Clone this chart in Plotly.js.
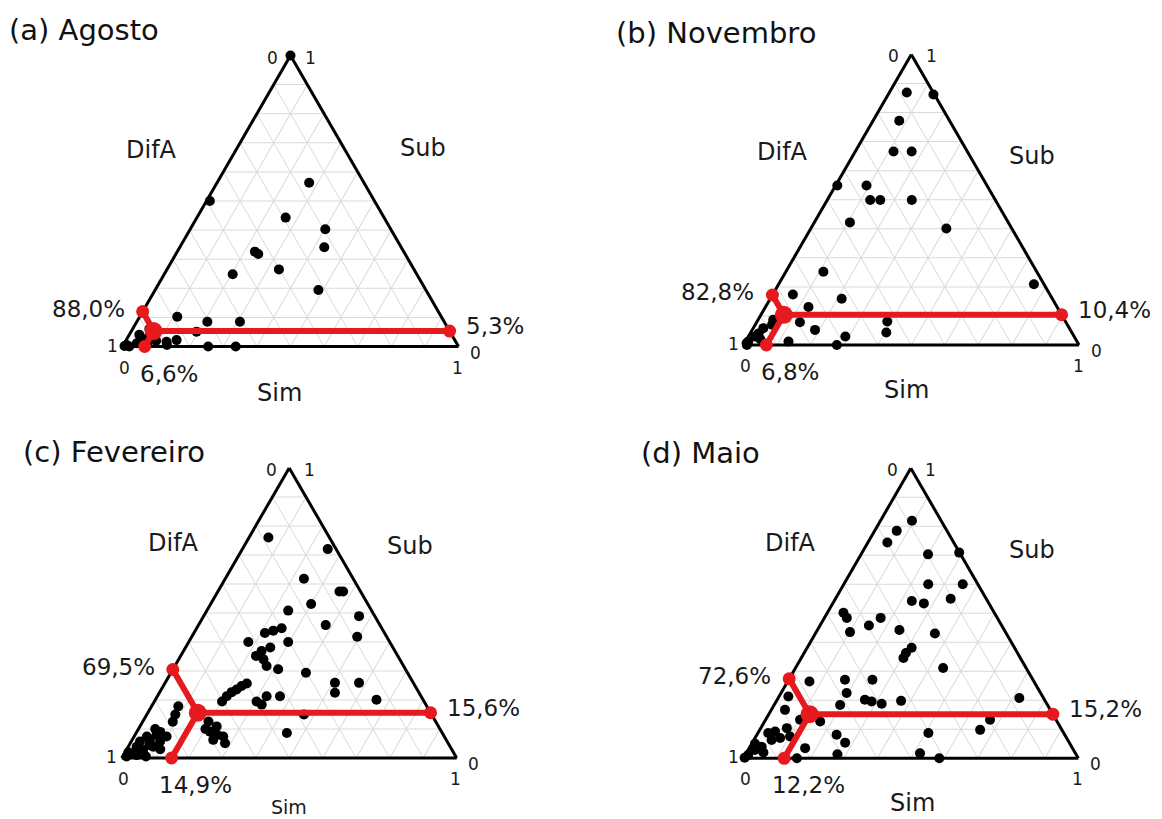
<!DOCTYPE html>
<html><head><meta charset="utf-8">
<script src="https://cdn.plot.ly/plotly-3.0.1.min.js"></script>
<style>html,body{margin:0;padding:0;background:#fff}#chart{width:1162px;height:819px}</style>
</head><body><div id="chart"></div>
<script>
// ---------- DATA ----------
const panelTitles = ['(a) Agosto', '(b) Novembro', '(c) Fevereiro', '(d) Maio'];
const axisNames = ['DifA', 'Sub', 'Sim'];
// corner tick labels: apex (left, right), bottom-left (left, below), bottom-right (right, below)
const cornerLabels = ['0', '1', '1', '0', '0', '1'];

// Sub (apex, a) and Sim (bottom-right, c); DifA = 1 - Sub - Sim
const subA = [1.0,0.563,0.50,0.443,0.403,0.341,0.326,0.318,0.265,0.248,0.194,0.102,0.085,0.085,0.051,0.0,0.0,0.005,0.016,0.022,0.005,0.011,0.016,0.0,0.008,0.03,0.04,0.02,0.06,0.002];
const simA = [0.0,0.274,0.01,0.264,0.402,0.43,0.231,0.245,0.333,0.204,0.486,0.112,0.21,0.307,0.195,0.255,0.337,0.13,0.123,0.15,0.01,0.037,0.054,0.02,0.07,0.06,0.03,0.09,0.05,0.005];

const subB = [0.869,0.862,0.772,0.666,0.666,0.549,0.549,0.499,0.499,0.499,0.422,0.401,0.252,0.209,0.174,0.159,0.131,0.078,0.052,0.081,0.043,0.029,0.0,0.012,0.006,0.029,0.058,0.087,0.012,0.04,0.02,0.0,0.07];
const simB = [0.052,0.135,0.078,0.114,0.168,0.005,0.092,0.128,0.158,0.252,0.106,0.404,0.112,0.761,0.06,0.213,0.128,0.129,0.187,0.388,0.404,0.289,0.278,0.128,0.006,0.02,0.03,0.045,0.008,0.025,0.04,0.01,0.05];

const subC = [0.760,0.720,0.618,0.574,0.574,0.531,0.508,0.489,0.458,0.418,0.431,0.439,0.447,0.40,0.40,0.381,0.369,0.352,0.340,0.317,0.306,0.294,0.259,0.225,0.259,0.201,0.257,0.248,0.236,0.227,0.213,0.195,0.213,0.195,0.184,0.213,0.15,0.086,0.178,0.15,0.125,0.126,0.109,0.091,0.074,0.0625,0.051,0.10,0.08,0.005,0.039,0.074,0.08,0.074,0.028,0.039,0.016,0.057,0.0625,0.057,0.01,0.02,0.045,0.09,0.03,0.005,0.1];
const simC = [0.058,0.255,0.235,0.363,0.374,0.30,0.243,0.464,0.38,0.494,0.212,0.233,0.254,0.178,0.297,0.253,0.233,0.225,0.253,0.274,0.314,0.403,0.507,0.524,0.579,0.66,0.245,0.234,0.225,0.215,0.207,0.202,0.326,0.305,0.326,0.366,0.469,0.45,0.08,0.085,0.09,0.196,0.229,0.218,0.266,0.242,0.283,0.20,0.245,0.012,0.025,0.038,0.064,0.097,0.05,0.075,0.027,0.086,0.053,0.026,0.04,0.01,0.06,0.07,0.1,0.07,0.05];

const subD = [0.819,0.784,0.744,0.703,0.709,0.60,0.60,0.55,0.542,0.534,0.502,0.484,0.435,0.484,0.458,0.442,0.43,0.381,0.363,0.346,0.311,0.265,0.271,0.271,0.225,0.202,0.196,0.188,0.198,0.184,0.208,0.133,0.098,0.087,0.017,0.0,0.014,0.081,0.054,0.213,0.167,0.104,0.075,0.035,0.127,0.133,0.011,0.04,0.087,0.092,0.029,0.063,0.05,0.02,0.07,0.002,0.0];
const simD = [0.094,0.066,0.058,0.20,0.29,0.252,0.355,0.344,0.232,0.272,0.048,0.067,0.101,0.168,0.146,0.245,0.357,0.312,0.304,0.305,0.441,0.065,0.168,0.25,0.196,0.262,0.285,0.319,0.372,0.197,0.72,0.67,0.658,0.509,0.519,0.585,0.274,0.238,0.277,0.028,0.041,0.078,0.102,0.167,0.166,0.103,0.009,0.035,0.031,0.049,0.02,0.053,0.01,0.05,0.075,0.003,0.16];

// mean composition of each panel (red marker)
const meanSub  = [0.053, 0.104, 0.156, 0.152];
const meanDifA = [0.880, 0.828, 0.695, 0.726];
const meanSim  = [0.066, 0.068, 0.149, 0.122];

const subs = [subA, subB, subC, subD];
const sims = [simA, simB, simC, simD];

// ---------- LAYOUT ----------
const PW = 1162, PH = 819;
const boxes = [
  {cx: 290.5, by: 346.5, w: 336},
  {cx: 911.3, by: 345.0, w: 335.5},
  {cx: 289.2, by: 758.0, w: 335},
  {cx: 910.8, by: 758.3, w: 335}
];
const titlePos = [[7, 30], [614, 33], [21, 452], [639, 453]];
const namePos = [
  [[151.5,150],[422.5,148],[279,393]],
  [[782.5,152],[1032,156],[906.5,390]],
  [[173,543],[410,546],[289,807]],
  [[790.5,543],[1032,550],[912,803]]
];
// corner label: vertex (a, c) and pixel offset from it
const cornerSpots = [
  {a: 1, c: 0, dx: -18, dy: 2}, {a: 1, c: 0, dx: 20, dy: 2},
  {a: 0, c: 0, dx: -10, dy: -1}, {a: 0, c: 0, dx: 2, dy: 21},
  {a: 0, c: 1, dx: 17, dy: 6}, {a: 0, c: 1, dx: -1, dy: 21}
];
const FONT = 'DejaVu Sans, Liberation Sans, Arial, sans-serif';
const RED = '#e5191e';
const TXT = '#1a1a1a';

function fmt(v) { return (v * 100).toFixed(1).replace('.', ',') + '%'; }
function axisCfg() {
  return {min: 0, linecolor: '#000', linewidth: 3, showline: true, showgrid: true,
          gridcolor: '#d9d9d9', gridwidth: 1, tick0: 0, dtick: 0.1,
          showticklabels: false, ticks: '', title: {text: ''}, layer: 'below traces'};
}
// position of a ternary point (a = Sub, c = Sim) inside panel i, in paper fraction
function toPaper(i, a, c) {
  const b = boxes[i], h = b.w * Math.sqrt(3) / 2;
  const px = b.cx - b.w / 2 + b.w * (c + a / 2);
  const py = b.by - h * a;
  return [px / PW, 1 - py / PH];
}

const layout = {
  width: PW, height: PH, margin: {l: 0, r: 0, t: 0, b: 0},
  paper_bgcolor: '#fff', showlegend: false, hovermode: false,
  font: {family: FONT, color: TXT},
  annotations: []
};
const traces = [];

for (let i = 0; i < 4; i++) {
  const id = i === 0 ? 'ternary' : 'ternary' + (i + 1);
  const b = boxes[i];
  const h = b.w * Math.sqrt(3) / 2;
  layout[id] = {
    sum: 1, bgcolor: '#fff',
    domain: {x: [(b.cx - b.w / 2) / PW, (b.cx + b.w / 2) / PW], y: [1 - b.by / PH, 1 - (b.by - h) / PH]},
    aaxis: axisCfg(), baxis: axisCfg(), caxis: axisCfg()
  };
  // data points
  traces.push({type: 'scatterternary', subplot: id, mode: 'markers', cliponaxis: false,
    a: subs[i], c: sims[i], marker: {size: 10, color: '#000'}, hoverinfo: 'skip'});

  const s = meanSub[i], d = meanDifA[i], m = meanSim[i];
  // red projection lines from the mean to each side
  const ends = [[1 - d, d, 0], [s, 0, 1 - s], [0, 1 - m, m]];
  ends.forEach(e => traces.push({type: 'scatterternary', subplot: id, mode: 'lines', cliponaxis: false,
    a: [s, e[0]], b: [d, e[1]], c: [m, e[2]], line: {color: RED, width: 6}, hoverinfo: 'skip'}));
  // end markers
  traces.push({type: 'scatterternary', subplot: id, mode: 'markers', cliponaxis: false,
    a: ends.map(e => e[0]), b: ends.map(e => e[1]), c: ends.map(e => e[2]),
    marker: {size: 13, color: RED}, hoverinfo: 'skip'});
  // mean marker
  traces.push({type: 'scatterternary', subplot: id, mode: 'markers', cliponaxis: false,
    a: [s], b: [d], c: [m], marker: {size: 18, color: RED}, hoverinfo: 'skip'});

  // corner 0/1 labels
  cornerSpots.forEach((sp, k) => {
    const p = toPaper(i, sp.a, sp.c);
    layout.annotations.push({xref: 'paper', yref: 'paper', x: p[0], y: p[1], xanchor: 'center', yanchor: 'middle',
      xshift: sp.dx, yshift: -sp.dy, showarrow: false, text: cornerLabels[k],
      font: {family: FONT, size: 17, color: TXT}});
  });

  // percentage labels next to the red end markers
  const pl = toPaper(i, ends[0][0], ends[0][2]);
  const pr = toPaper(i, ends[1][0], ends[1][2]);
  const pb = toPaper(i, ends[2][0], ends[2][2]);
  const pf = {family: FONT, size: 23, color: TXT};
  layout.annotations.push({xref: 'paper', yref: 'paper', x: pl[0], y: pl[1], xanchor: 'right', yanchor: 'middle',
    xshift: -16, yshift: 3, showarrow: false, text: fmt(d), font: pf});
  layout.annotations.push({xref: 'paper', yref: 'paper', x: pr[0], y: pr[1], xanchor: 'left', yanchor: 'middle',
    xshift: 14, yshift: 5, showarrow: false, text: fmt(s), font: pf});
  layout.annotations.push({xref: 'paper', yref: 'paper', x: pb[0], y: pb[1], xanchor: 'center', yanchor: 'middle',
    xshift: 24, yshift: -27, showarrow: false, text: fmt(m), font: pf});

  // panel title
  layout.annotations.push({xref: 'paper', yref: 'paper', x: titlePos[i][0] / PW, y: 1 - titlePos[i][1] / PH,
    xanchor: 'left', yanchor: 'middle', showarrow: false, text: panelTitles[i],
    font: {family: FONT, size: 29, color: '#111'}});
  // axis names
  for (let k = 0; k < 3; k++) {
    const p = namePos[i][k];
    layout.annotations.push({xref: 'paper', yref: 'paper', x: p[0] / PW, y: 1 - p[1] / PH,
      xanchor: 'center', yanchor: 'middle', showarrow: false, text: axisNames[k],
      font: {family: FONT, size: (i === 2 && k === 2) ? 19 : 24, color: TXT}});
  }
}

Plotly.newPlot('chart', traces, layout, {staticPlot: true, displayModeBar: false});
</script>
</body></html>
